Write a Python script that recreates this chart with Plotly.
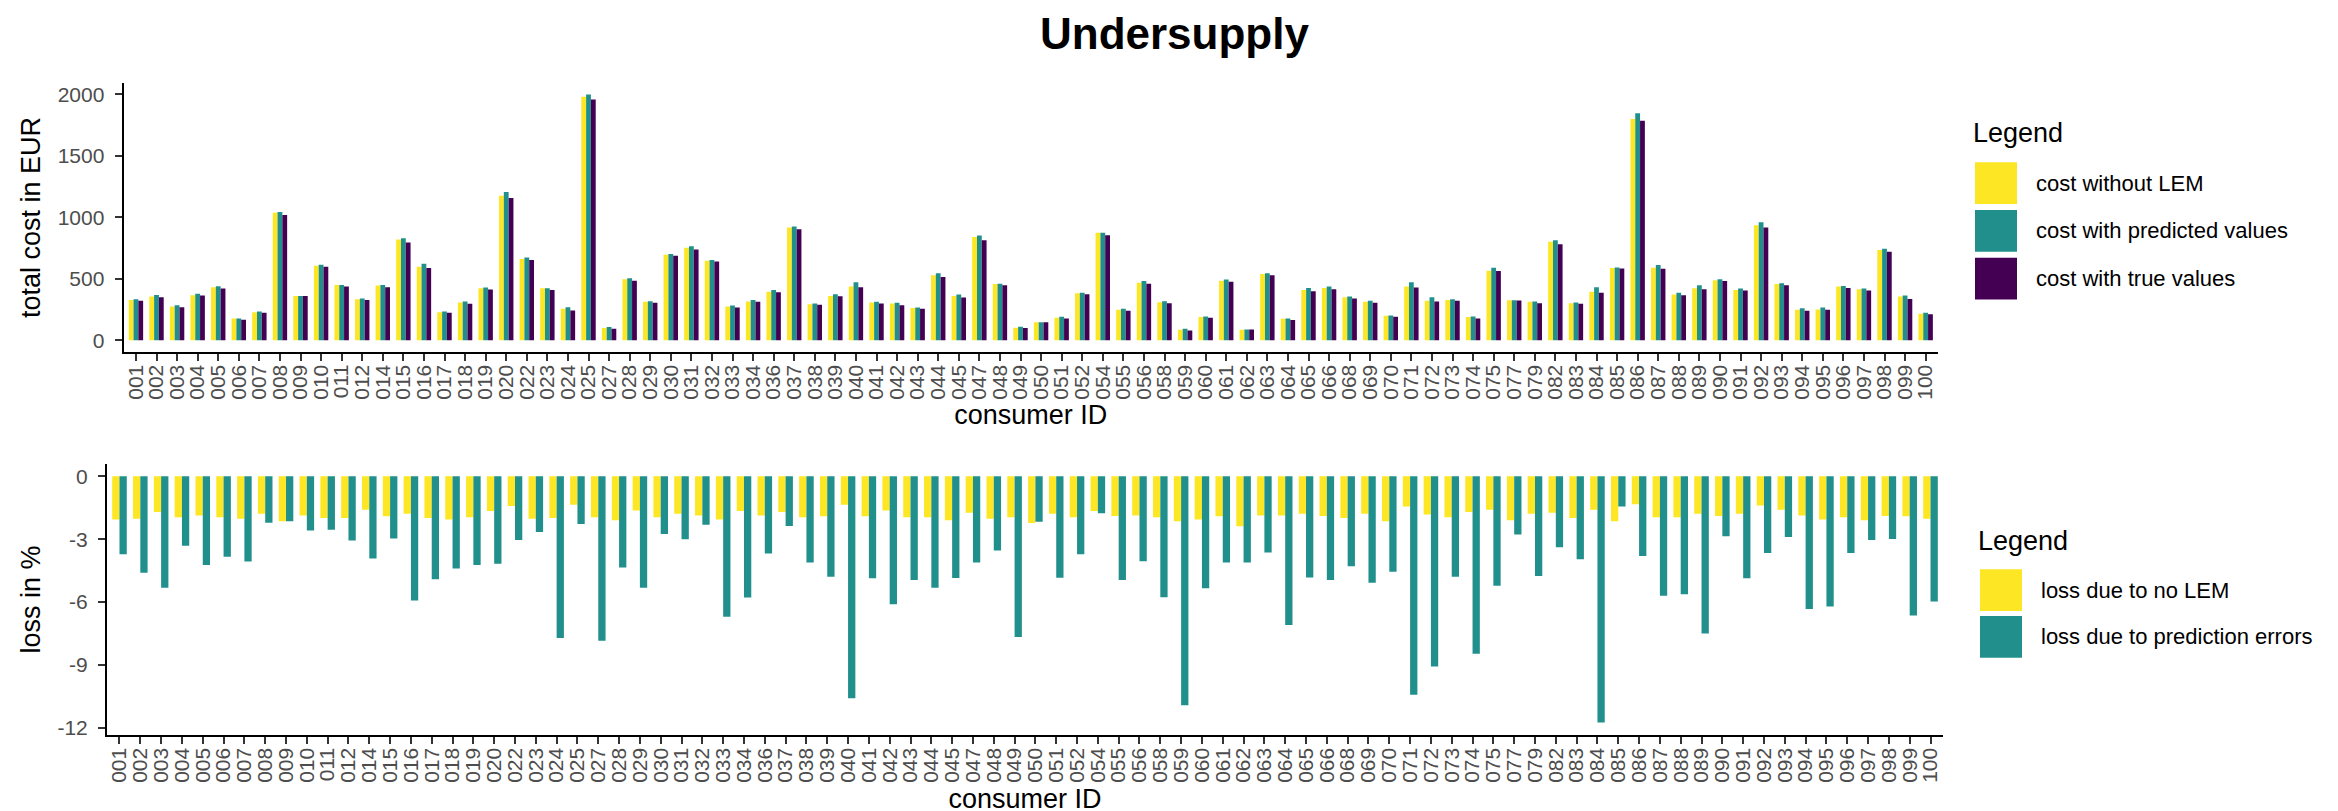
import plotly.graph_objects as go

W, H = 2338, 811

consumer_ids = [
    "001", "002", "003", "004", "005", "006", "007", "008", "009", "010", "011", "012",
    "014", "015", "016", "017", "018", "019", "020", "022", "023", "024", "025", "027",
    "028", "029", "030", "031", "032", "033", "034", "036", "037", "038", "039", "040",
    "041", "042", "043", "044", "045", "047", "048", "049", "050", "051", "052", "054",
    "055", "056", "058", "059", "060", "061", "062", "063", "064", "065", "066", "068",
    "069", "070", "071", "072", "073", "074", "075", "077", "079", "082", "083", "084",
    "085", "086", "087", "088", "089", "090", "091", "092", "093", "094", "095", "096",
    "097", "098", "099", "100",
]

cost_without_lem = [
    329, 356, 275, 367, 431, 178, 229, 1038, 361, 607, 450, 334,
    445, 820, 599, 229, 307, 423, 1176, 661, 423, 256, 1980, 100,
    496, 313, 696, 752, 647, 275, 316, 396, 917, 294, 361, 437,
    307, 299, 264, 529, 361, 841, 458, 102, 148, 183, 383, 874,
    248, 469, 310, 86, 189, 485, 86, 539, 175, 410, 426, 351,
    313, 200, 437, 321, 329, 189, 566, 326, 313, 801, 302, 396,
    588, 1799, 591, 372, 423, 488, 410, 936, 458, 248, 251, 437,
    415, 734, 356, 216,
]

cost_with_predicted = [
    334, 369, 286, 378, 440, 178, 235, 1044, 361, 615, 450, 340,
    450, 831, 623, 235, 316, 429, 1206, 674, 423, 270, 1998, 108,
    504, 318, 701, 766, 653, 283, 329, 410, 925, 299, 375, 472,
    313, 305, 267, 545, 372, 852, 461, 111, 148, 191, 388, 874,
    256, 483, 318, 94, 194, 494, 89, 545, 178, 426, 437, 356,
    321, 202, 472, 351, 334, 194, 591, 326, 316, 814, 307, 432,
    593, 1847, 612, 388, 448, 496, 421, 960, 464, 262, 267, 442,
    421, 744, 364, 224,
]

cost_with_true = [
    321, 351, 270, 364, 421, 167, 224, 1019, 361, 599, 437, 329,
    431, 796, 588, 224, 297, 413, 1157, 653, 410, 243, 1958, 94,
    485, 305, 688, 739, 642, 267, 313, 391, 903, 289, 359, 432,
    299, 286, 256, 515, 348, 814, 448, 100, 148, 178, 375, 855,
    240, 461, 302, 81, 183, 477, 89, 529, 165, 399, 415, 340,
    305, 191, 429, 316, 321, 178, 564, 324, 302, 782, 297, 388,
    585, 1785, 583, 367, 415, 483, 405, 917, 448, 240, 248, 426,
    405, 720, 337, 213,
]

loss_no_lem = [
    -2.06, -2.03, -1.71, -1.95, -1.87, -1.95, -2.03, -1.79, -2.15, -1.87, -1.99, -1.99,
    -1.60, -1.91, -1.79, -1.99, -2.06, -1.95, -1.66, -1.42, -2.03, -1.99, -1.36, -1.95,
    -2.10, -1.63, -1.95, -1.79, -1.87, -2.06, -1.66, -1.87, -1.71, -1.95, -1.91, -1.36,
    -1.91, -1.63, -1.95, -1.95, -2.10, -1.74, -2.03, -1.95, -2.23, -1.79, -1.95, -1.66,
    -1.90, -1.87, -1.95, -2.15, -2.06, -1.91, -2.39, -1.87, -1.87, -1.79, -1.90, -1.99,
    -1.79, -2.15, -1.44, -1.82, -1.95, -1.71, -1.60, -2.10, -1.79, -1.74, -1.99, -1.60,
    -2.15, -1.34, -1.95, -1.95, -1.79, -1.90, -1.79, -1.39, -1.60, -1.87, -2.06, -1.95,
    -2.10, -1.90, -1.91, -2.03,
]

loss_prediction_errors = [
    -3.72, -4.60, -5.32, -3.32, -4.24, -3.84, -4.07, -2.22, -2.15, -2.59, -2.55, -3.07,
    -3.92, -2.97, -5.93, -4.91, -4.40, -4.24, -4.18, -3.04, -2.66, -7.72, -2.28, -7.85,
    -4.35, -5.32, -2.75, -3.01, -2.31, -6.71, -5.79, -3.69, -2.37, -4.11, -4.79, -10.60,
    -4.87, -6.11, -4.95, -5.32, -4.86, -4.11, -3.54, -7.67, -2.17, -4.84, -3.72, -1.76,
    -4.95, -4.05, -5.78, -10.93, -5.35, -4.11, -4.11, -3.64, -7.10, -4.83, -4.95, -4.30,
    -5.08, -4.56, -10.43, -9.08, -4.79, -8.47, -5.22, -2.78, -4.76, -3.39, -3.96, -11.76,
    -1.44, -3.80, -5.70, -5.63, -7.50, -2.86, -4.87, -3.66, -2.90, -6.34, -6.22, -3.66,
    -3.04, -2.99, -6.65, -5.98,
]

cost_tick_values = [0, 500, 1000, 1500, 2000]
loss_tick_values = [-12, -9, -6, -3, 0]
loss_tick_labels = ["-12", "-9", "-6", "-3", "0"]

top_series = ["cost without LEM", "cost with predicted values", "cost with true values"]
bottom_series = ["loss due to no LEM", "loss due to prediction errors"]

FONT = "Liberation Sans, Arial, Helvetica, sans-serif"
YELLOW = "#FDE725"
TEAL = "#21908C"
PURPLE = "#440154"

TICK_SIZE = 21
TITLE_SIZE = 27
LEG_TEXT_SIZE = 22


def px_x(x):
    return x / W


def px_y(y):
    return 1 - y / H


fig = go.Figure()
for name, vals, col in zip(top_series,
                           [cost_without_lem, cost_with_predicted, cost_with_true],
                           [YELLOW, TEAL, PURPLE]):
    fig.add_trace(go.Bar(x=consumer_ids, y=vals, name=name, marker=dict(color=col, line=dict(width=0)),
                         xaxis="x", yaxis="y", showlegend=False))
for name, vals, col in zip(bottom_series,
                           [loss_no_lem, loss_prediction_errors],
                           [YELLOW, TEAL]):
    fig.add_trace(go.Bar(x=consumer_ids, y=vals, name=name, marker=dict(color=col, line=dict(width=0)),
                         xaxis="x2", yaxis="y2", showlegend=False))

axis_common = dict(
    showline=True, linecolor="black", linewidth=2,
    ticks="outside", ticklen=7, tickwidth=2, tickcolor="#333333",
    showgrid=False, zeroline=False,
    tickfont=dict(family=FONT, size=TICK_SIZE, color="#4D4D4D"),
)

xcommon = dict(axis_common, type="category", categoryorder="array", categoryarray=consumer_ids,
               tickmode="array", tickvals=consumer_ids, ticktext=consumer_ids,
               tickangle=-90, ticklabelstandoff=-5,
               range=[-0.6, len(consumer_ids) - 0.4])

ycommon = dict(axis_common, ticklabelstandoff=6)

fig.update_layout(
    width=W, height=H,
    margin=dict(l=0, r=0, t=0, b=0),
    paper_bgcolor="white", plot_bgcolor="white",
    barmode="group", bargap=0.3, bargroupgap=0,
    font=dict(family=FONT, color="black"),
    showlegend=False,
    xaxis=dict(xcommon, domain=[px_x(115.6), px_x(1930)], anchor="y",
               title=dict(text="consumer ID", font=dict(size=TITLE_SIZE, color="black"), standoff=5)),
    yaxis=dict(ycommon, domain=[px_y(346), px_y(75)], anchor="x",
               range=[-97, 2095], tickvals=cost_tick_values,
               title=dict(text="total cost in EUR", font=dict(size=TITLE_SIZE, color="black"), standoff=9)),
    xaxis2=dict(xcommon, domain=[px_x(99), px_x(1935)], anchor="y2",
                title=dict(text="consumer ID", font=dict(size=TITLE_SIZE, color="black"), standoff=7)),
    yaxis2=dict(ycommon, domain=[px_y(731), px_y(458)], anchor="x2",
                range=[-12.37, 0.6], tickvals=loss_tick_values, ticktext=loss_tick_labels,
                title=dict(text="loss in %", font=dict(size=TITLE_SIZE, color="black"), standoff=9)),
)

# Title
fig.add_annotation(text="<b>Undersupply</b>", xref="paper", yref="paper",
                   x=px_x(1166), y=px_y(26), xanchor="center", yanchor="middle",
                   showarrow=False, font=dict(family=FONT, size=44, color="black"))

# Manual legends (large square keys like ggplot)
shapes = []


def add_legend(title_x, title_y, key_x, text_x, key_tops, text_centers, names, colors):
    fig.add_annotation(text="Legend", xref="paper", yref="paper", x=px_x(title_x), y=px_y(title_y),
                       xanchor="left", yanchor="middle", showarrow=False,
                       font=dict(family=FONT, size=TITLE_SIZE, color="black"))
    for top, ctr, name, col in zip(key_tops, text_centers, names, colors):
        shapes.append(dict(type="rect", xref="paper", yref="paper",
                           x0=px_x(key_x), x1=px_x(key_x + 42), y0=px_y(top), y1=px_y(top + 42),
                           fillcolor=col, line=dict(width=0)))
        fig.add_annotation(text=name, xref="paper", yref="paper", x=px_x(text_x), y=px_y(ctr),
                           xanchor="left", yanchor="middle", showarrow=False,
                           font=dict(family=FONT, size=LEG_TEXT_SIZE, color="black"))


add_legend(1963, 126, 1967, 2026, [155, 203, 251], [176, 224, 272],
           top_series, [YELLOW, TEAL, PURPLE])
add_legend(1968, 536, 1972, 2031, [564, 611], [585, 632],
           bottom_series, [YELLOW, TEAL])

fig.update_layout(shapes=shapes)

fig.write_html("out.html")
